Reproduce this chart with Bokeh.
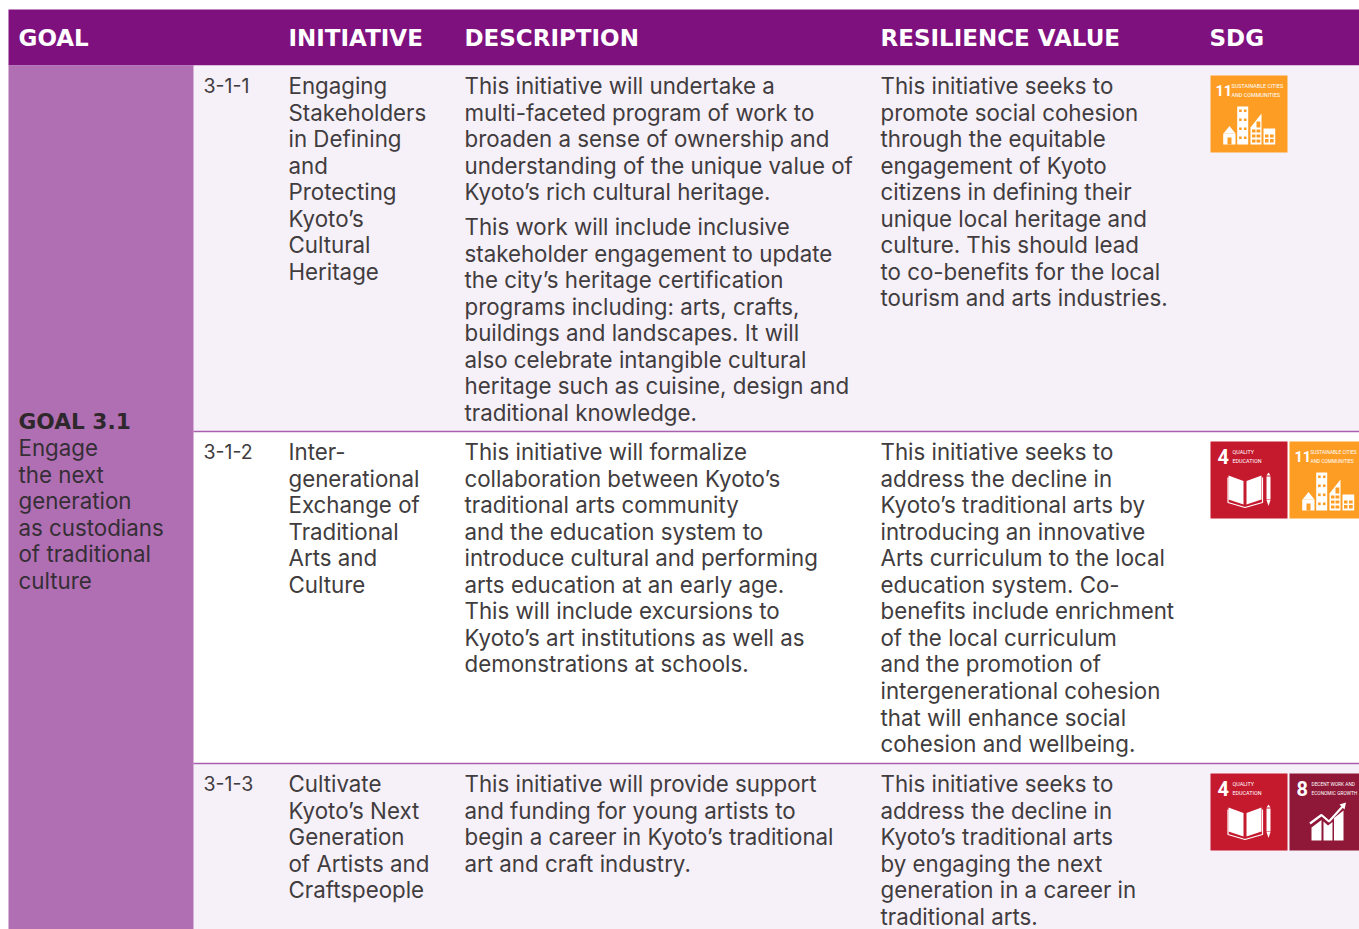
from bokeh.plotting import figure
from bokeh.embed import file_html
from bokeh.resources import INLINE
from bokeh.core.properties import value
from bokeh.models import Range1d

# ---- content ----
headers = ["GOAL", "INITIATIVE", "DESCRIPTION", "RESILIENCE VALUE", "SDG"]
goal_title = "GOAL 3.1"
goal_lines = ["Engage", "the next", "generation", "as custodians", "of traditional", "culture"]
ids = ["3-1-1", "3-1-2", "3-1-3"]
initiatives = [
    ["Engaging", "Stakeholders", "in Defining", "and", "Protecting", "Kyoto\u2019s", "Cultural", "Heritage"],
    ["Inter-", "generational", "Exchange of", "Traditional", "Arts and", "Culture"],
    ["Cultivate", "Kyoto\u2019s Next", "Generation", "of Artists and", "Craftspeople"],
]
desc_1a = ["This initiative will undertake a", "multi-faceted program of work to", "broaden a sense of ownership and",
           "understanding of the unique value of", "Kyoto\u2019s rich cultural heritage."]
desc_1b = ["This work will include inclusive", "stakeholder engagement to update", "the city\u2019s heritage certification",
           "programs including: arts, crafts,", "buildings and landscapes. It will", "also celebrate intangible cultural",
           "heritage such as cuisine, design and", "traditional knowledge."]
desc_2 = ["This initiative will formalize", "collaboration between Kyoto\u2019s", "traditional arts community",
          "and the education system to", "introduce cultural and performing", "arts education at an early age.",
          "This will include excursions to", "Kyoto\u2019s art institutions as well as", "demonstrations at schools."]
desc_3 = ["This initiative will provide support", "and funding for young artists to",
          "begin a career in Kyoto\u2019s traditional", "art and craft industry."]
resilience = [
    ["This initiative seeks to", "promote social cohesion", "through the equitable", "engagement of Kyoto",
     "citizens in defining their", "unique local heritage and", "culture. This should lead",
     "to co-benefits for the local", "tourism and arts industries."],
    ["This initiative seeks to", "address the decline in", "Kyoto\u2019s traditional arts by", "introducing an innovative",
     "Arts curriculum to the local", "education system. Co-", "benefits include enrichment", "of the local curriculum",
     "and the promotion of", "intergenerational cohesion", "that will enhance social", "cohesion and wellbeing."],
    ["This initiative seeks to", "address the decline in", "Kyoto\u2019s traditional arts", "by engaging the next",
     "generation in a career in", "traditional arts."],
]
sdg_rows = [[11], [4, 11], [4, 8]]
sdg_names = {11: ["SUSTAINABLE CITIES", "AND COMMUNITIES"], 4: ["QUALITY", "EDUCATION"], 8: ["DECENT WORK AND", "ECONOMIC GROWTH"]}
sdg_colors = {11: "#FD9D24", 4: "#C5192D", 8: "#8F1838"}

# ---- layout (page pixels) ----
L, R, T, B = 0, 1359, 0, 929
TABLE_L = 8
HEAD_T, HEAD_B = 9, 65
ROW_B = [431, 763, 940]
ROW_T = [65, 431, 763]
ROW_BG = ["#F6F0F8", "#FFFFFF", "#F6F0F8"]
X_GOAL, X_ID, X_INIT, X_DESC, X_RES, X_SDG = 18, 203, 288, 464, 880, 1209
GOAL_R = 193
PITCH = 26.55
FIRST = [85, 451, 783]
INK = "#413C3E"
BODY = "22.3px"
FONT = "Inter"
HEAD_FONT = "DejaVu Sans"
ICON_FONT = "Roboto"

p = figure(width=R - L, height=B - T, x_range=Range1d(L, R), y_range=Range1d(B, T),
           output_backend="svg", toolbar_location=None, min_border=0, outline_line_color=None,
           background_fill_color="#FFFFFF", border_fill_color="#FFFFFF")
p.axis.visible = False
p.grid.visible = False


def put(xs, ys, txt, size=BODY, color=INK, style="normal", font=FONT):
    p.text(xs, ys, text=txt, text_font=value(font), text_font_size=size, text_color=color,
           text_font_style=style, text_baseline="middle", text_align="left")


def block(x, y0, lines, **kw):
    put([x] * len(lines), [y0 + i * PITCH for i in range(len(lines))], lines, **kw)


# backgrounds
p.quad(left=[TABLE_L], right=[R], top=[HEAD_T], bottom=[HEAD_B], fill_color="#7F117F", line_color=None)
p.quad(left=[GOAL_R] * 3, right=[R] * 3, top=ROW_T, bottom=ROW_B, fill_color=ROW_BG, line_color=None)
p.quad(left=[TABLE_L], right=[GOAL_R], top=[HEAD_B], bottom=[ROW_B[-1]], fill_color="#B06FB2", line_color=None)
p.segment(x0=[GOAL_R] * 2, x1=[R] * 2, y0=ROW_B[:2], y1=ROW_B[:2], line_color="#A860AE", line_width=1.5)

# header
put([X_GOAL, X_INIT, X_DESC, X_RES, X_SDG], [37] * 5, headers, size="23px", color="#FFFFFF", style="bold", font=HEAD_FONT)

# goal column
put([X_GOAL], [420.5], [goal_title], size="21.7px", color="#2E282C", style="bold", font=HEAD_FONT)
block(X_GOAL, 447, goal_lines, color="#352E36")

# rows
for i in range(3):
    put([X_ID], [FIRST[i]], [ids[i]], size="19.5px")
    block(X_INIT, FIRST[i], initiatives[i])
    block(X_RES, FIRST[i], resilience[i])
block(X_DESC, FIRST[0], desc_1a)
block(X_DESC, 226, desc_1b)
block(X_DESC, FIRST[1], desc_2)
block(X_DESC, FIRST[2], desc_3)


# SDG icons, drawn in local 77 px units
def shift(pts, ox, oy):
    return [px + ox for px, _ in pts], [py + oy for _, py in pts]


def poly(pts, ox, oy, color):
    xs, ys = shift(pts, ox, oy)
    p.patch(xs, ys, fill_color=color, line_color=None)


def rects(items, ox, oy, color):
    p.quad(left=[a + ox for a, _, _, _ in items], right=[c + ox for _, _, c, _ in items],
           top=[b + oy for _, b, _, _ in items], bottom=[d + oy for _, _, _, d in items],
           fill_color=color, line_color=None)


def icon(goal, ox, oy, name_size):
    bg = sdg_colors[goal]
    p.quad(left=[ox], right=[ox + 77], top=[oy], bottom=[oy + 77], fill_color=bg, line_color=None)
    nx = 5 if goal == 11 else 7
    tx = 21 if goal == 11 else 22
    num_size = "14.5px" if goal == 11 else "20px"
    put([ox + nx], [oy + 15], [str(goal)], size=num_size, color="#FFFFFF", style="bold", font=ICON_FONT)
    names = sdg_names[goal]
    put([ox + tx] * 2, [oy + 10.5, oy + 19.5], names, size=name_size, color="#FFFFFF", font=ICON_FONT)
    W = "#FFFFFF"
    if goal == 11:
        rects([(26.7, 31, 37.7, 69), (12.7, 58, 25, 69), (53, 53, 64.7, 69)], ox, oy, W)
        poly([(19, 50.5), (25, 58), (13, 58)], ox, oy, W)
        poly([(40, 52), (51, 38), (51, 69), (40, 69)], ox, oy, W)
        wins = []
        for r in range(4):
            wins += [(28.6, 34 + r * 9, 31.2, 36.6 + r * 9), (33.4, 34 + r * 9, 36, 36.6 + r * 9)]
        wins += [(17, 62, 21, 69), (54.5, 59, 58, 62), (59.5, 59, 63.2, 62), (54.5, 63.5, 58, 67), (59.5, 63.5, 63.2, 67)]
        for r in range(3):
            wins += [(41.5, 54 + r * 5, 45, 57 + r * 5), (46, 54 + r * 5, 49.8, 57 + r * 5)]
        wins += [(46, 46, 49.8, 52)]
        rects(wins, ox, oy, bg)
    elif goal == 4:
        poly([(18, 34), (33, 39.5), (33, 63), (18, 58)], ox, oy, W)
        poly([(36, 39.5), (51, 34), (51, 58), (36, 63)], ox, oy, W)
        xs, ys = shift([(17.5, 36), (17.5, 61), (34.5, 66), (52, 61), (52, 36)], ox, oy)
        p.line(xs, ys, line_color=W, line_width=1.2)
        rects([(56, 35, 60, 58)], ox, oy, W)
        poly([(56, 58.5), (60, 58.5), (58, 64.5)], ox, oy, W)
        poly([(56, 34), (60, 34), (58, 31)], ox, oy, W)
    else:
        poly([(22, 54), (32, 46.5), (32, 67), (22, 67)], ox, oy, W)
        poly([(34, 48), (38.5, 52), (43, 48.5), (43, 67), (34, 67)], ox, oy, W)
        poly([(44.5, 44.5), (54, 37), (54, 67), (44.5, 67)], ox, oy, W)
        xs, ys = shift([(20.5, 50), (32, 41.5), (39.5, 48), (54, 32)], ox, oy)
        p.line(xs, ys, line_color=W, line_width=2.2)
        poly([(50, 31), (56.5, 29), (55, 36)], ox, oy, W)


ICON_Y = [75, 441, 773]
ICON_X = [1210, 1289]
NAME_SIZE = ["5.4px", "4.8px"]
for row, goals in enumerate(sdg_rows):
    for k, g in enumerate(goals):
        icon(g, ICON_X[k], ICON_Y[row], NAME_SIZE[k])

open("out.html", "w").write(file_html(p, INLINE))
